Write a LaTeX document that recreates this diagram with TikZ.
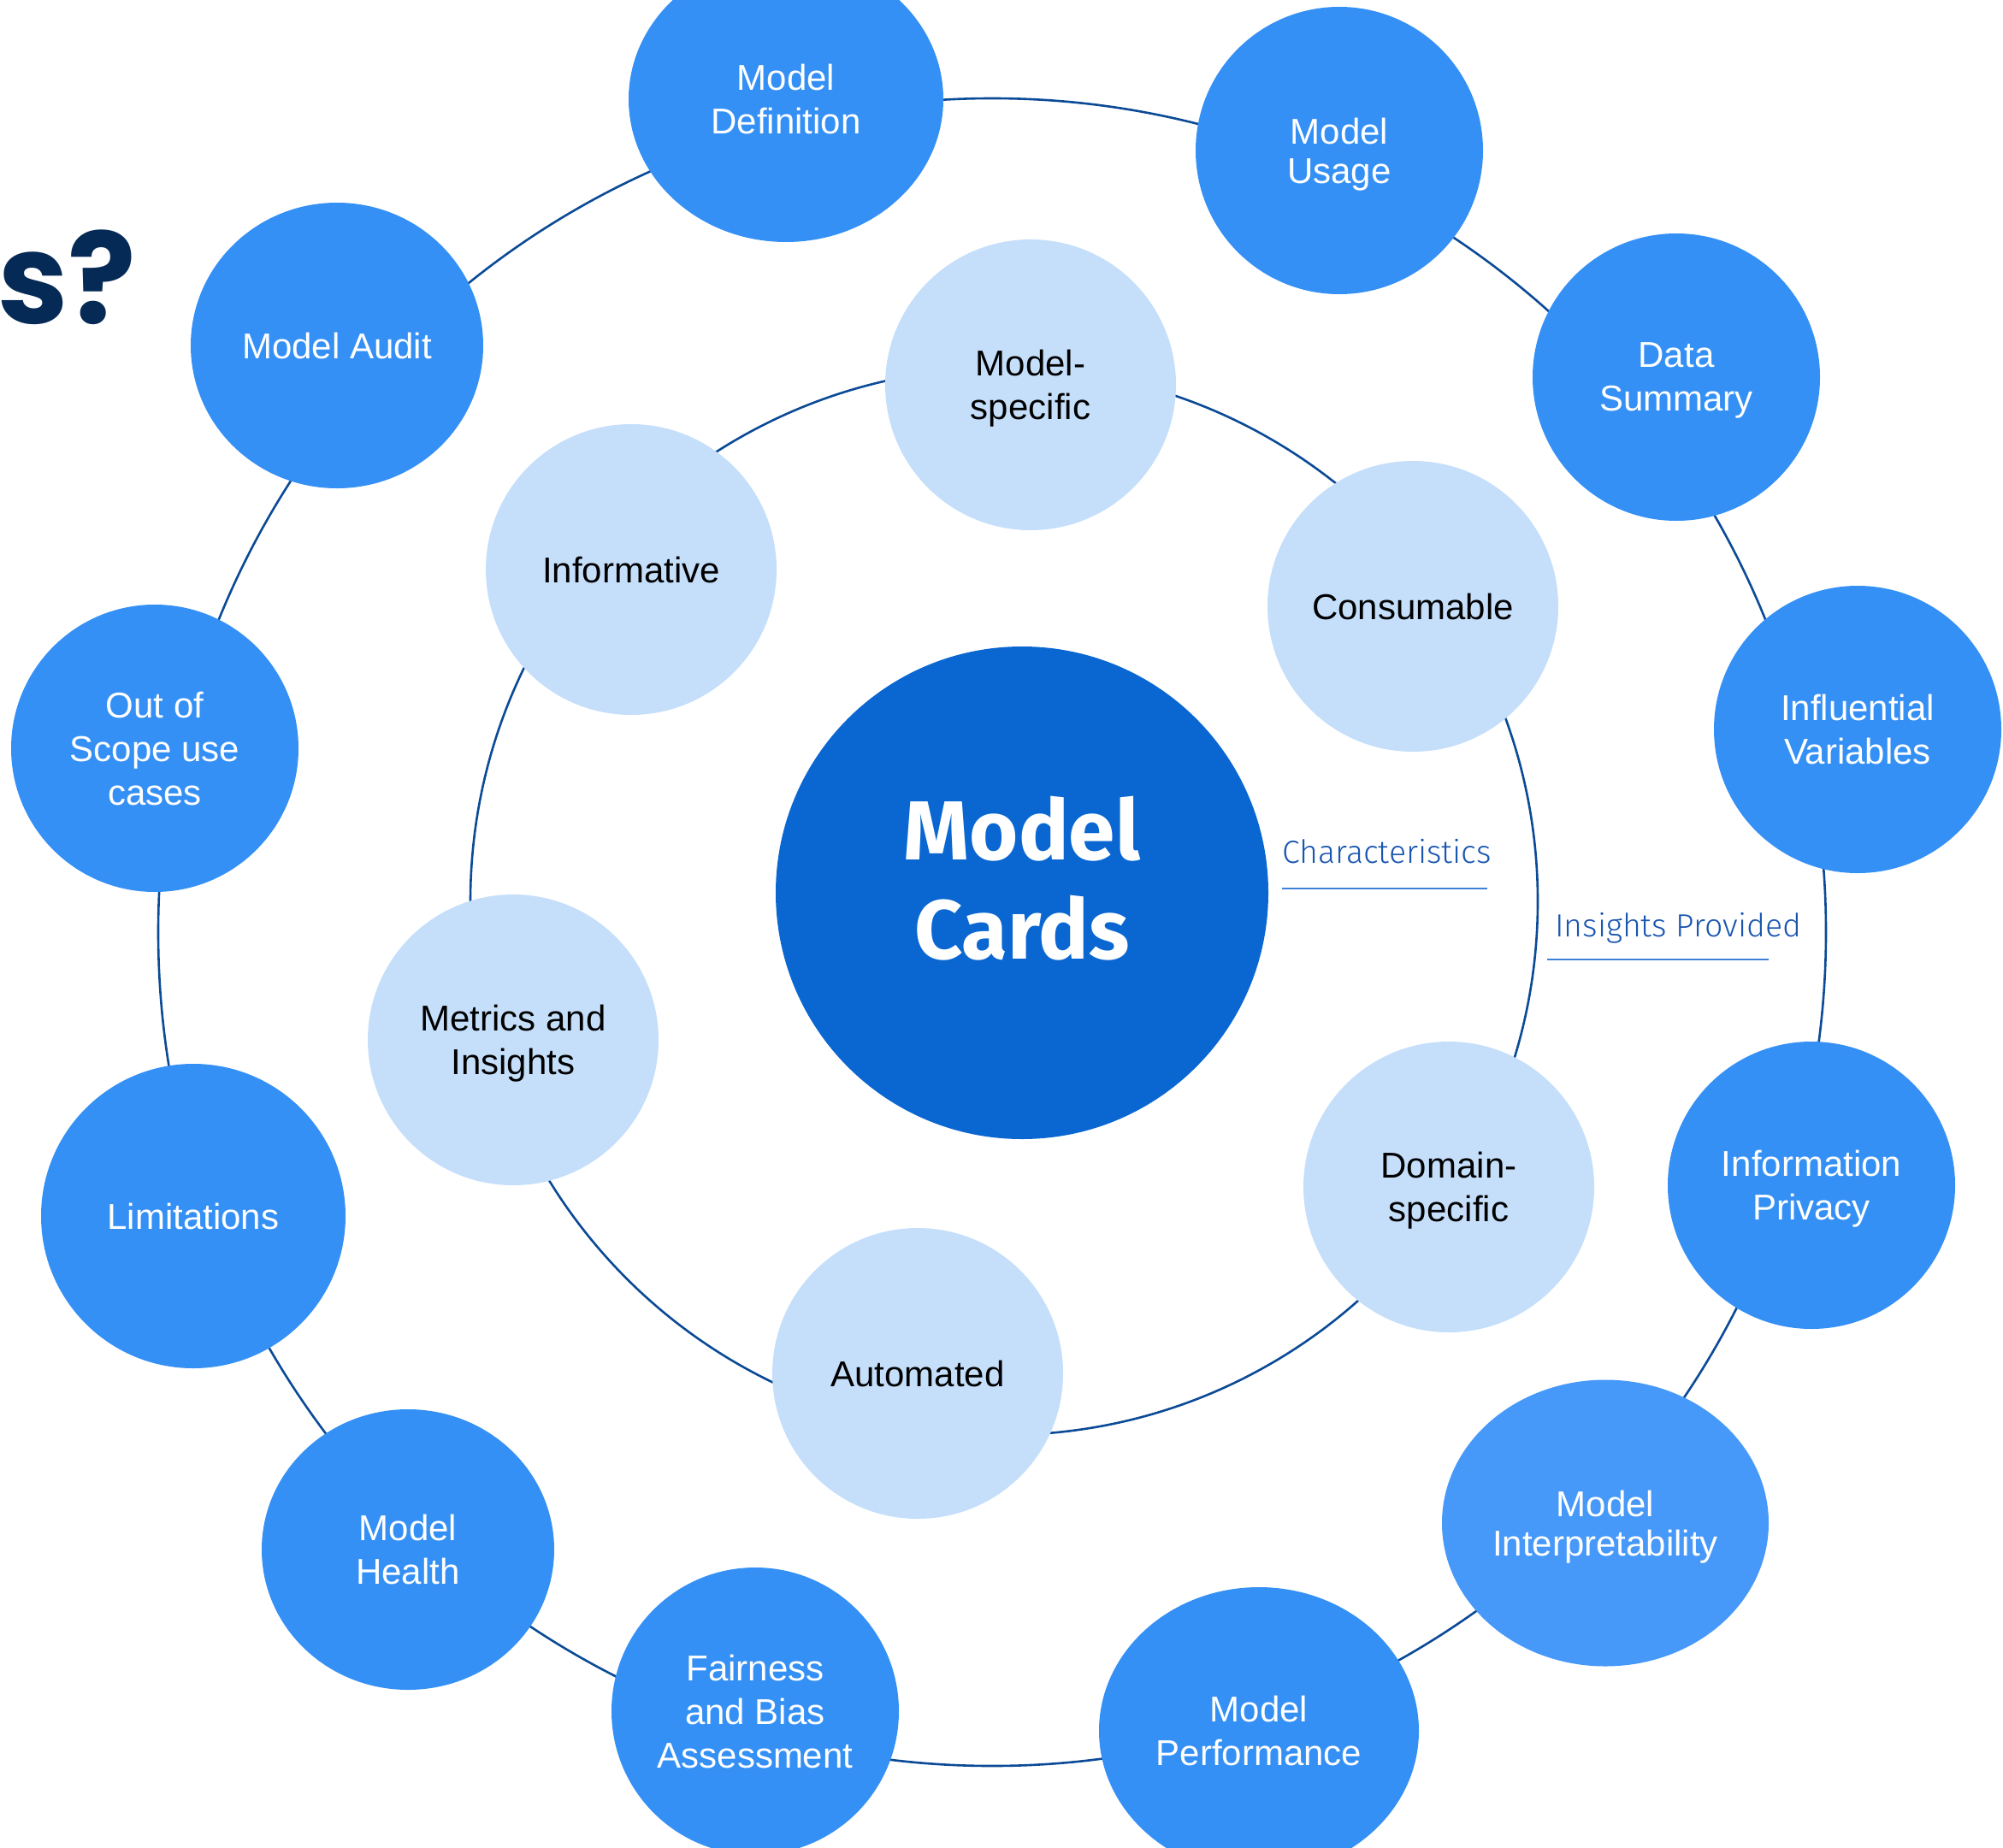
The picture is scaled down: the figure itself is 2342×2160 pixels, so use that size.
\documentclass[tikz,border=0pt]{standalone}
\usepackage{fontspec}
\setmainfont{Liberation Sans}
\newfontfamily\hubfont{Fira Sans}
\newfontfamily\thinfont{Fira Sans Light}
\newfontfamily\titlefont{Poppins}
\usepackage{tikz}
\usetikzlibrary{shapes.geometric}

\definecolor{hubblue}{HTML}{0A67D2}
\definecolor{topicblue}{HTML}{3590F5}
\definecolor{topiclight}{HTML}{4799F9}
\definecolor{traitblue}{HTML}{C5DFFB}
\definecolor{ringblue}{HTML}{0B4A96}
\definecolor{labelblue}{HTML}{1A56B0}
\definecolor{ruleblue}{HTML}{3F80D8}
\definecolor{navy}{HTML}{062A56}

\begin{document}
\begin{tikzpicture}[
            x = 1pt, % one unit per pixel
            y = -1pt, % y grows downwards
            ring/.style = {draw = ringblue, line width = 2.6pt}, % the two circles
            rule/.style = {draw = ruleblue, line width = 2pt} % underlines
        ]
        \tikzstyle{topic}=[
            circle,
            fill = topicblue,
            text = white,
            minimum size = 336pt,
            inner sep = 0pt,
            text depth = 0pt,
            align = center,
            font = \fontsize{42}{51}\selectfont
        ]
        \tikzstyle{trait}=[
            circle,
            fill = traitblue,
            text = black,
            minimum size = 340pt,
            inner sep = 0pt,
            text depth = 0pt,
            align = center,
            font = \fontsize{42}{51}\selectfont
        ]
        \tikzstyle{tag}=[
            text = labelblue,
            inner sep = 0pt,
            anchor = base west,
            font = \thinfont\fontsize{37.5}{44}\selectfont
        ]
        \useasboundingbox (0,0) rectangle (2342,2160);

        % rings behind the bubbles
        \coordinate (outerhub) at (1160,1090);
        \coordinate (innerhub) at (1174,1054);
        \draw[ring] (outerhub) circle[radius=975pt];
        \draw[ring] (innerhub) circle[radius=624pt];

        \node[font=\titlefont\bfseries\fontsize{148}{148}\selectfont, text=navy,
            anchor=base west, inner sep=0pt] (title) at (-3,378) {s?};

        % outer ring
        \node[topic, ellipse, minimum width=368pt, minimum height=334pt] (mdef) at (919,116) {Model\\Definition};
        \node[topic, font=\fontsize{42}{46}\selectfont] (usage) at (1566,176) {Model\\Usage};
        \node[topic] (summary) at (1960,441) {Data\\Summary};
        \node[topic] (influence) at (2172,853) {Influential\\Variables};
        \node[topic] (privacy) at (2118,1386) {Information\\Privacy};
        \node[topic, ellipse, fill=topiclight, minimum width=382pt, minimum height=335pt,
            font=\fontsize{42}{46}\selectfont] (interp) at (1877,1781) {Model\\Interpretability};
        \node[topic, ellipse, minimum width=374pt, minimum height=336pt] (perf) at (1472,2024) {Model\\Performance};
        \node[topic] (fairness) at (883,2001) {Fairness\\and Bias\\Assessment};
        \node[topic, ellipse, minimum width=342pt, minimum height=328pt] (health) at (477,1812) {Model\\Health};
        \node[topic, minimum size=356pt] (limits) at (226,1422) {Limitations};
        \node[topic] (scope) at (181,875) {Out of\\Scope use\\cases};
        \node[topic, ellipse, minimum width=342pt, minimum height=334pt] (audit) at (394,404) {Model Audit};

        % inner ring
        \node[trait] (mspec) at (1205,450) {Model-\\specific};
        \node[trait] (informative) at (738,666) {Informative};
        \node[trait] (consumable) at (1652,709) {Consumable};
        \node[trait] (metrics) at (600,1216) {Metrics and\\Insights};
        \node[trait] (domain) at (1694,1388) {Domain-\\specific};
        \node[trait] (automated) at (1073,1606) {Automated};

        % centre
        \node[circle, fill=hubblue, minimum size=576pt] (hub) at (1195,1044) {};
        \node[text=white, align=center, font=\hubfont\bfseries\fontsize{98}{116}\selectfont]
            (hubtitle) at ([yshift=17pt]hub.center) {Model\\Cards};

        \node[tag] (charlabel) at (1499,1009) {Characteristics};
        \draw[rule] (charlabel.base west) ++(0,30) -- ++(240,0);
        \node[tag] (insights) at (1818,1095) {Insights Provided};
        \draw[rule] (insights.base west) ++(-9,27) -- ++(259,0);
    \end{tikzpicture}
\end{document}
